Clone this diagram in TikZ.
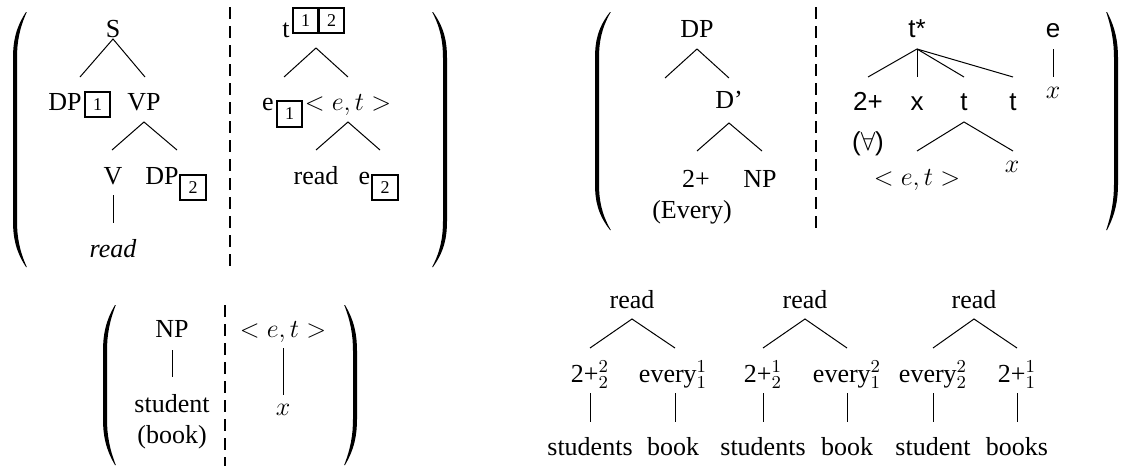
\RequirePackage{fix-cm}
\documentclass[tikz,border=0pt]{standalone}
\usepackage[no-math]{fontspec}
\setmainfont{Liberation Serif}
\setsansfont{Liberation Sans}
% big parentheses: curved ends of fixed length (46 px), straight middle
\newcommand{\LPar}[4]{% tip x, y top, y bottom, leftmost x
\fill (#1,#2) .. controls ({#4+2.5},{#2+16}) and (#4,{#2+30}) .. (#4,{#2+46})
 -- (#4,{#3-46}) .. controls (#4,{#3-30}) and ({#4+2.5},{#3-16}) .. (#1,#3)
 -- ({#1+0.8},#3) .. controls ({#4+6.5},{#3-16}) and ({#4+4},{#3-30}) .. ({#4+4},{#3-46})
 -- ({#4+4},{#2+46}) .. controls ({#4+4},{#2+30}) and ({#4+6.5},{#2+16}) .. ({#1+0.8},#2) -- cycle;}
\newcommand{\RPar}[4]{% tip x, y top, y bottom, rightmost x
\fill (#1,#2) .. controls ({#4-2.5},{#2+16}) and (#4,{#2+30}) .. (#4,{#2+46})
 -- (#4,{#3-46}) .. controls (#4,{#3-30}) and ({#4-2.5},{#3-16}) .. (#1,#3)
 -- ({#1-0.8},#3) .. controls ({#4-6.5},{#3-16}) and ({#4-4},{#3-30}) .. ({#4-4},{#3-46})
 -- ({#4-4},{#2+46}) .. controls ({#4-4},{#2+30}) and ({#4-6.5},{#2+16}) .. ({#1-0.8},#2) -- cycle;}
\begin{document}
\begin{tikzpicture}[x=0.5pt,y=-0.5pt,
 tx/.style={anchor=base, inner sep=0pt, font=\fontsize{13}{15}\selectfont},
 sf/.style={anchor=base, inner sep=0pt, font=\fontsize{13}{15}\selectfont\sffamily},
 bx/.style={draw, line width=1pt, minimum size=12.75pt, inner sep=0pt, font=\fontsize{9}{10}\selectfont},
 br/.style={line width=0.5pt},
 sepline/.style={line width=1pt, dash pattern=on 6pt off 3.5pt}]
\useasboundingbox (0,0) rectangle (1131,466);

% ---------- top-left group ----------
\LPar{26}{12}{267}{13}
\RPar{433}{12}{267}{447}
\coordinate (d1t) at (230,7); \coordinate (d1b) at (230,273);
\draw[sepline] (d1t) -- (d1b);

\node[tx] (S) at (113,37) {S};
\node[tx] (DPa) at (65,110) {DP};
\node[bx] (bxa) at (97.5,104.5) {1};
\node[tx] (VP) at (144,110) {VP};
\node[tx] (V) at (113,184) {V};
\node[tx] (DPb) at (162,184) {DP};
\node[bx] (bxb) at (193,187.5) {2};
\node[tx] (readi) at (113,257) {\itshape read};
\coordinate (S-a) at (113,39); \coordinate (S-l) at (80,77); \coordinate (S-r) at (145,77);
\coordinate (VP-a) at (144,122); \coordinate (VP-l) at (112,150); \coordinate (VP-r) at (177,150);
\coordinate (V-t) at (113,195); \coordinate (V-b) at (113,223);
\draw[br] (S-l) -- (S-a) -- (S-r);
\draw[br] (VP-l) -- (VP-a) -- (VP-r);
\draw[br] (V-t) -- (V-b);

\node[tx] (t0) at (286,38) {t};
\node[bx] (bxc) at (305.5,20.5) {1};
\node[bx] (bxd) at (331.5,20.5) {2};
\node[tx] (e1) at (268,110) {e};
\node[bx] (bxe) at (289.5,114) {1};
\node[tx] (et1) at (348,110) {$<e,t>$};
\node[tx] (read0) at (316,184) {read};
\node[tx] (e2) at (364.5,184) {e};
\node[bx] (bxf) at (385,187.5) {2};
\coordinate (t0-a) at (316,48); \coordinate (t0-l) at (284,77); \coordinate (t0-r) at (348,77);
\coordinate (et1-a) at (348,122); \coordinate (et1-l) at (316,150); \coordinate (et1-r) at (380,150);
\draw[br] (t0-l) -- (t0-a) -- (t0-r);
\draw[br] (et1-l) -- (et1-a) -- (et1-r);

% ---------- top-right group ----------
\LPar{610}{12}{230}{595}
\RPar{1107}{12}{230}{1118}
\coordinate (d2t) at (816,7); \coordinate (d2b) at (816,230);
\draw[sepline] (d2t) -- (d2b);

\node[tx] (DPc) at (697,37) {DP};
\node[tx] (Dbar) at (729,108) {D’};
\node[tx] (twop) at (696,187) {2+};
\node[tx] (NPa) at (760,187) {NP};
\node[tx] (every) at (692,218) {(Every)};
\coordinate (DPc-a) at (697,49); \coordinate (DPc-l) at (665,78); \coordinate (DPc-r) at (729,78);
\coordinate (Db-a) at (729,123); \coordinate (Db-l) at (697,151); \coordinate (Db-r) at (762,151);
\draw[br] (DPc-l) -- (DPc-a) -- (DPc-r);
\draw[br] (Db-l) -- (Db-a) -- (Db-r);

\node[sf] (ts) at (917,38) {t*};
\node[sf] (twos) at (868,110) {2+};
\node[sf] (xs) at (917,110) {x};
\node[sf] (tA) at (964,110) {t};
\node[sf] (tB) at (1013,110) {t};
\node[sf] (fa) at (868,150) {($\forall$)};
\node[tx] (xm) at (1012,172) {$x$};
\node[tx] (et2) at (917,185) {$<e,t>$};
\node[sf] (es) at (1053,38) {e};
\node[tx] (xe) at (1053,98) {$x$};
\coordinate (ts-a) at (917,49);
\coordinate (ts-1) at (868,77); \coordinate (ts-2) at (917,77); \coordinate (ts-3) at (964,77); \coordinate (ts-4) at (1013,77);
\coordinate (tA-a) at (964,122); \coordinate (tA-l) at (917,151); \coordinate (tA-r) at (1013,151);
\coordinate (es-t) at (1053,49); \coordinate (es-b) at (1053,77);
\draw[br] (ts-a) -- (ts-1); \draw[br] (ts-a) -- (ts-2); \draw[br] (ts-a) -- (ts-3); \draw[br] (ts-a) -- (ts-4);
\draw[br] (tA-l) -- (tA-a) -- (tA-r);
\draw[br] (es-t) -- (es-b);

% ---------- bottom-left group ----------
\LPar{115}{305}{465}{103}
\RPar{345}{305}{465}{357}
\coordinate (d3t) at (225,305); \coordinate (d3b) at (225,466);
\draw[sepline] (d3t) -- (d3b);
\node[tx] (NPb) at (172,337) {NP};
\node[tx] (stud) at (172,412) {student};
\node[tx] (book) at (172,443) {(book)};
\node[tx] (et3) at (283,337) {$<e,t>$};
\node[tx] (x3) at (283,415) {$x$};
\coordinate (NPb-t) at (172,350); \coordinate (NPb-b) at (172,377);
\coordinate (et3-t) at (283,348); \coordinate (et3-b) at (283,395);
\draw[br] (NPb-t) -- (NPb-b);
\draw[br] (et3-t) -- (et3-b);

% ---------- bottom-right trees ----------
\node[tx] (r1) at (632,308) {read};
\node[tx] (r2) at (805,308) {read};
\node[tx] (r3) at (974,308) {read};
\node[tx] (a1) at (590,382) {2+$^2_2$};
\node[tx] (b1) at (673,382) {every$^1_1$};
\node[tx] (a2) at (763,382) {2+$^1_2$};
\node[tx] (b2) at (847,382) {every$^2_1$};
\node[tx] (a3) at (933,382) {every$^2_2$};
\node[tx] (b3) at (1017,382) {2+$^1_1$};
\node[tx] (w1) at (590,455) {students};
\node[tx] (v1) at (673,455) {book};
\node[tx] (w2) at (763,455) {students};
\node[tx] (v2) at (847,455) {book};
\node[tx] (w3) at (933,455) {student};
\node[tx] (v3) at (1017,455) {books};
\foreach \r/\ax/\lx/\rx in {1/632/590/675, 2/805/763/847, 3/974/933/1017}{
  \coordinate (r\r-a) at (\ax,319);
  \coordinate (r\r-l) at (\lx,348);
  \coordinate (r\r-r) at (\rx,348);
  \draw[br] (r\r-l) -- (r\r-a) -- (r\r-r);
  \coordinate (a\r-t) at (\lx,393); \coordinate (a\r-b) at (\lx,422);
  \coordinate (b\r-t) at (\rx,393); \coordinate (b\r-b) at (\rx,422);
  \draw[br] (a\r-t) -- (a\r-b);
  \draw[br] (b\r-t) -- (b\r-b);
}
\end{tikzpicture}
\end{document}
